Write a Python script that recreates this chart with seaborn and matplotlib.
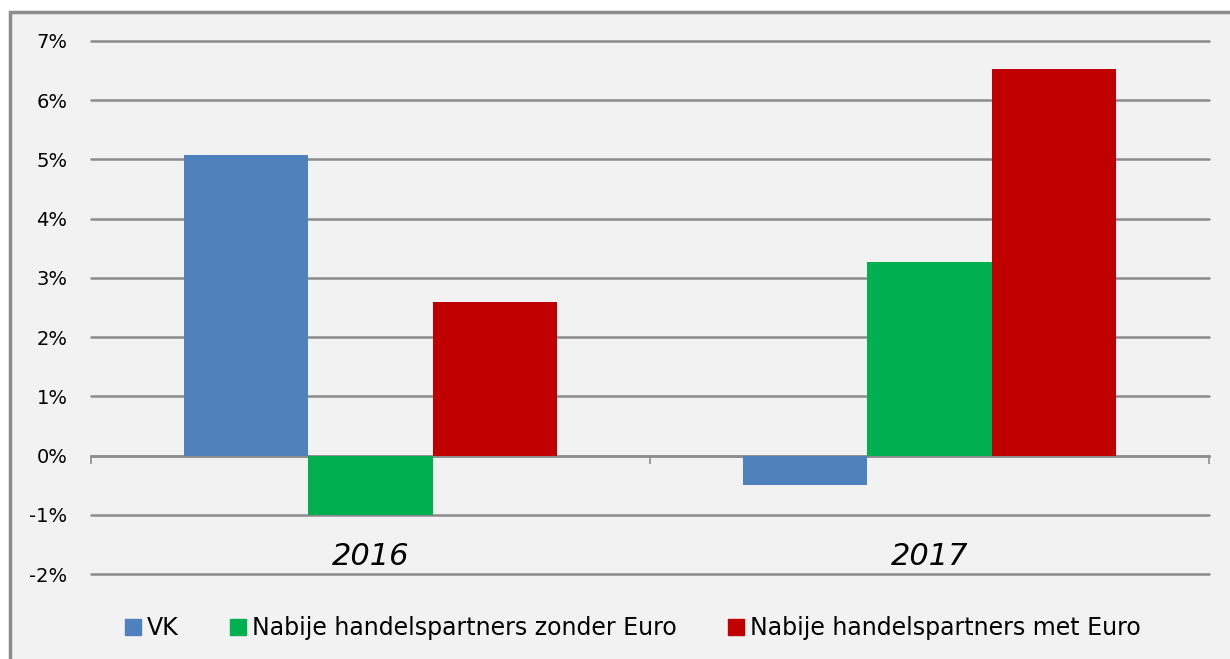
import matplotlib
matplotlib.use("Agg")
import matplotlib.pyplot as plt
import seaborn as sns
import pandas as pd
from matplotlib.patches import Rectangle
from matplotlib.lines import Line2D
from matplotlib.ticker import FixedLocator

categories = ["2016", "2017"]
series = ["VK", "Nabije handelspartners zonder Euro", "Nabije handelspartners met Euro"]
vk = [5.07, -0.5]
zonder = [-1.0, 3.26]
met = [2.6, 6.53]
colors = ["#4f81bd", "#00b050", "#c00000"]
yticks = [-2, -1, 0, 1, 2, 3, 4, 5, 6, 7]

rows = []
for s, vals in zip(series, [vk, zonder, met]):
    for c, v in zip(categories, vals):
        rows.append({"year": c, "series": s, "value": v})
df = pd.DataFrame(rows)

sns.set_theme(style="white")
plt.rcParams['font.family'] = ['DejaVu Sans']

fig = plt.figure(figsize=(12.3, 6.59), dpi=100)
fig.patch.set_facecolor("white")
bg = Rectangle((10/1230, -0.05), 1.1, 1 - 12/659 + 0.05, transform=fig.transFigure,
               facecolor="#f2f2f2", edgecolor="#8c8c8c", linewidth=2.5, zorder=-10)
fig.patches.append(bg)

ax = fig.add_axes([91/1230, 1 - 574/659, (1209 - 91)/1230, (574 - 41)/659])
ax.set_facecolor("none")

sns.barplot(data=df, x="year", y="value", hue="series", order=categories, hue_order=series,
            palette=colors, saturation=1, width=0.666, ax=ax, legend=False, zorder=3,
            linewidth=0, edgecolor="none")

ax.set_ylim(-2, 7)
ax.set_xlim(-0.5, 1.5)
ax.set_yticks(yticks)
ax.set_yticklabels([f"{t}%" for t in yticks], fontsize=14, color="black")
ax.tick_params(axis="y", length=0, pad=17)
for t in yticks:
    ax.axhline(t, color="#8c8c8c", linewidth=1.8, zorder=1, clip_on=False)

for sp in ["top", "right", "left"]:
    ax.spines[sp].set_visible(False)
ax.spines["bottom"].set_position(("data", 0))
ax.spines["bottom"].set_color("#8c8c8c")
ax.spines["bottom"].set_linewidth(1.8)
ax.set_xticks([])
ax.xaxis.set_minor_locator(FixedLocator([-0.5, 0.5, 1.5]))
ax.tick_params(axis="x", which="minor", direction="out", length=6, width=1.2, color="#8c8c8c", bottom=True)
ax.set_xlabel("")
ax.set_ylabel("")

for i, c in enumerate(categories):
    ax.text(i, -1.7, c, ha="center", va="center", fontsize=22, style="italic", color="black")

handles = [Line2D([0], [0], marker="s", linestyle="none", markersize=11, markerfacecolor=col,
                  markeredgecolor=col) for col in colors]
leg = fig.legend(handles, series, loc="center", bbox_to_anchor=(631/1230, 1 - 628/659), ncol=3,
                 frameon=False, fontsize=17, handletextpad=0.1, columnspacing=2.0, handlelength=1.0)
for t in leg.get_texts():
    t.set_color("black")

fig.savefig("out.png", dpi=100)
